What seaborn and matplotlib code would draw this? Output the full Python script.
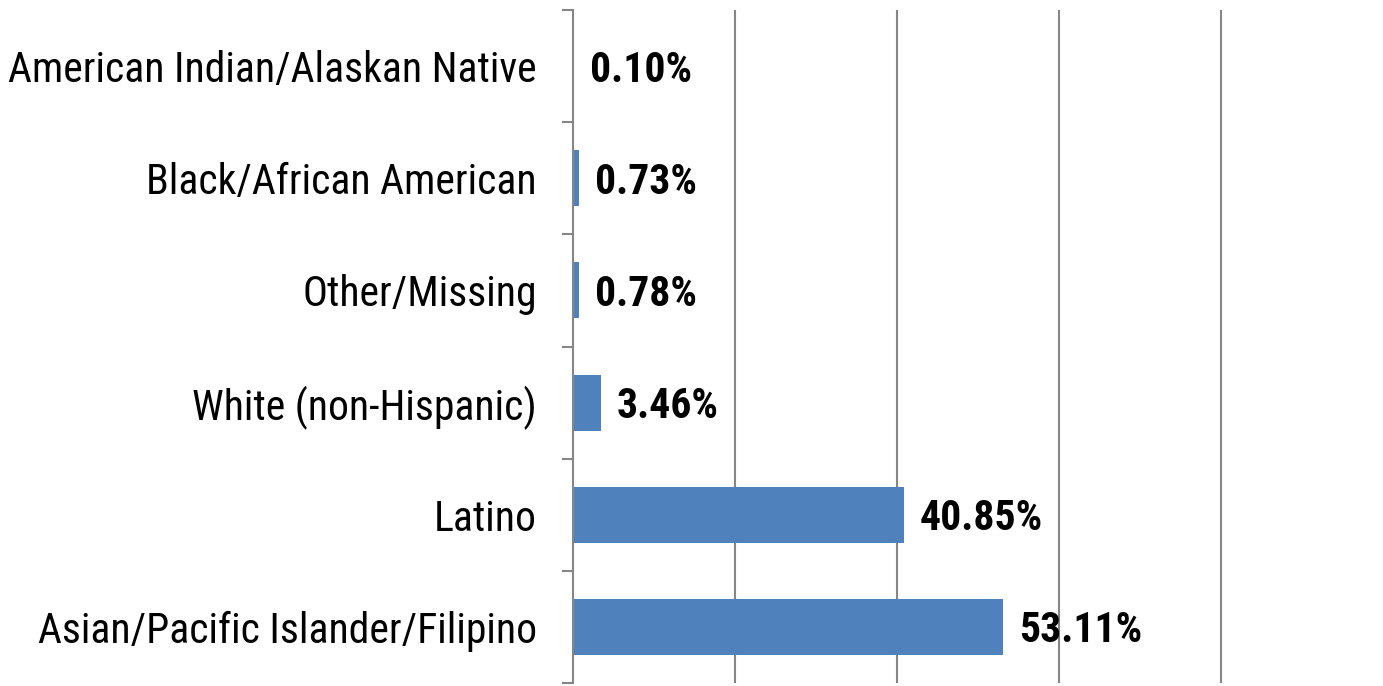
import matplotlib
matplotlib.use("Agg")
import matplotlib.pyplot as plt
import seaborn as sns
import numpy as np
import pandas as pd
from matplotlib import font_manager

categories = [
    "American Indian/Alaskan Native",
    "Black/African American",
    "Other/Missing",
    "White (non-Hispanic)",
    "Latino",
    "Asian/Pacific Islander/Filipino",
]
percents = [0.10, 0.73, 0.78, 3.46, 40.85, 53.11]
value_labels = ["0.10%", "0.73%", "0.78%", "3.46%", "40.85%", "53.11%"]

sns.set_style("white")
names = {f.name for f in font_manager.fontManager.ttflist}
family = "Liberation Sans"
for cand in ["Roboto Condensed", "Liberation Sans Narrow", "Open Sans Condensed"]:
    if cand in names:
        family = cand
        break
plt.rcParams["font.family"] = [family, "DejaVu Sans"]

df = pd.DataFrame({"category": categories, "percent": percents})

fig = plt.figure(figsize=(13.83, 6.86), dpi=100)
ax = fig.add_axes([573 / 1383, 1 - 683 / 686, 1 - 573 / 1383, 673 / 686])

sns.barplot(data=df, x="percent", y="category", orient="h", color="#4F81BD",
            saturation=1, width=0.5, linewidth=0, edgecolor="none", ax=ax)

ax.set_xlim(0, 100)
ax.set_ylim(len(categories) - 0.5, -0.5)
ax.set_xticks([20, 40, 60, 80])
ax.set_xticklabels([])
ax.tick_params(axis="x", length=0)
ax.grid(axis="x", color="#868686", linewidth=1.5)
ax.set_axisbelow(True)

# ticks at category boundaries, labels centred on bars
label_size = 26 if family == "Liberation Sans" else 30
ax.set_yticks(np.arange(len(categories)))
ax.set_yticklabels(categories, fontsize=label_size, color="black")
ax.set_yticks(np.arange(-0.5, len(categories)), minor=True)
ax.tick_params(axis="y", which="major", left=False, length=0, pad=26)
ax.tick_params(axis="y", which="minor", left=True, length=8, width=1.5,
               color="#868686")

for s in ["top", "right", "bottom"]:
    ax.spines[s].set_visible(False)
ax.spines["left"].set_color("#868686")
ax.spines["left"].set_linewidth(1.5)

ax.set_xlabel("")
ax.set_ylabel("")

for i, (v, lab) in enumerate(zip(percents, value_labels)):
    ax.annotate(lab, xy=(v, i), xytext=(16, -4), textcoords="offset pixels",
                va="center", ha="left", fontsize=label_size, fontweight="bold",
                color="black")

fig.savefig("out.png", dpi=100)
